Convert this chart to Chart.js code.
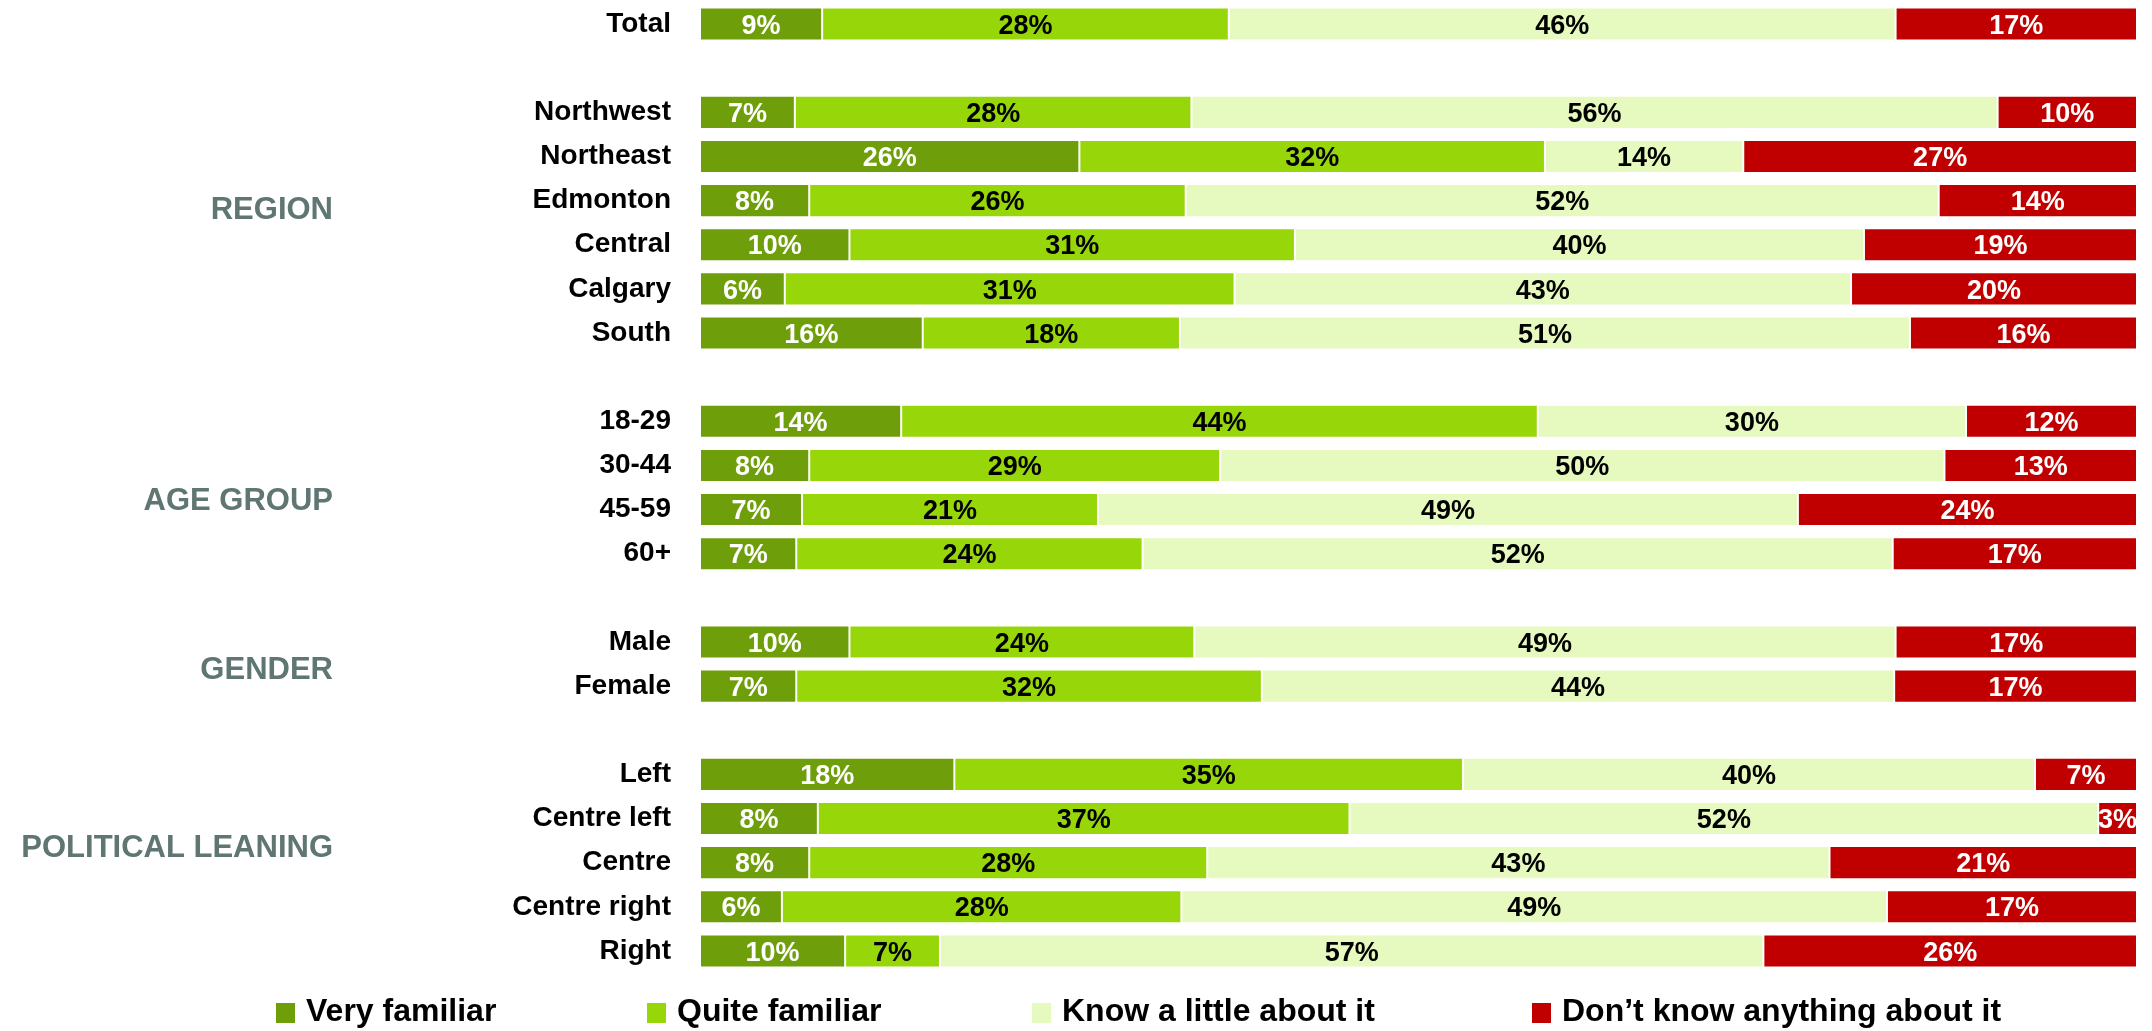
<!DOCTYPE html>
<html><head><meta charset="utf-8">
<script src="https://cdn.jsdelivr.net/npm/chart.js@4/dist/chart.umd.min.js"></script>
<style>html,body{margin:0;padding:0;background:#fff;} #wrap{position:relative;width:2152px;height:1031px;}</style>
</head><body><div id="wrap"><canvas id="c"></canvas></div>
<script>
const categories = ['Total','', 'Northwest','Northeast','Edmonton','Central','Calgary','South','', '18-29','30-44','45-59','60+','', 'Male','Female','', 'Left','Centre left','Centre','Centre right','Right'];
const veryFamiliar  = [8.5,null,6.6,26.4,7.6,10.4,5.9,15.5,null,14.0,7.6,7.1,6.7,null,10.4,6.7,null,17.7,8.2,7.6,5.7,10.1];
const quiteFamiliar = [28.3,null,27.6,32.4,26.2,31.0,31.3,17.9,null,44.3,28.6,20.6,24.1,null,24.0,32.4,null,35.4,37.0,27.7,27.8,6.6];
const knowALittle   = [46.4,null,56.1,13.8,52.4,39.6,42.9,50.8,null,29.8,50.4,48.7,52.2,null,48.8,44.0,null,39.8,52.1,43.3,49.1,57.3];
const dontKnow      = [16.8,null,9.7,27.4,13.8,19.0,19.9,15.8,null,11.9,13.4,23.6,17.0,null,16.8,16.9,null,7.1,2.7,21.4,17.4,26.0];
const seriesNames = ['Very familiar','Quite familiar','Know a little about it','Don\u2019t know anything about it'];
const groupNames = ['REGION','AGE GROUP','GENDER','POLITICAL LEANING'];

const FONT = '"Liberation Sans", Arial, sans-serif';
const colors = ['#6f9e0b','#97d70a','#e6f9bf','#c00000'];
const labelColors = ['#ffffff','#000000','#000000','#ffffff'];
const groupAt = [4.16, 10.76, 14.58, 18.63];
const legendX = [276, 647, 1032, 1532];

const valueLabels = {
  id: 'valueLabels',
  afterDatasetsDraw(chart) {
    const ctx = chart.ctx;
    ctx.save();
    ctx.font = 'bold 27px ' + FONT;
    ctx.textAlign = 'center';
    ctx.textBaseline = 'alphabetic';
    chart.data.datasets.forEach((ds, di) => {
      const meta = chart.getDatasetMeta(di);
      meta.data.forEach((bar, i) => {
        const v = ds.data[i];
        if (v == null) return;
        const p = bar.getProps(['x','y','base'], true);
        ctx.fillStyle = labelColors[di];
        ctx.fillText(Math.round(v) + '%', (p.x + p.base) / 2, p.y + 9.7);
      });
    });
    ctx.restore();
  }
};

const groupLabels = {
  id: 'groupLabels',
  afterDraw(chart) {
    const ctx = chart.ctx, y = chart.scales.y;
    ctx.save();
    ctx.font = 'bold 31px ' + FONT;
    ctx.fillStyle = '#5f7672';
    ctx.textAlign = 'right';
    ctx.textBaseline = 'alphabetic';
    groupNames.forEach((g, i) => {
      ctx.fillText(g, 333, y.getPixelForValue(groupAt[i]) + 11);
    });
    ctx.restore();
  }
};

const customLegend = {
  id: 'customLegend',
  afterDraw(chart) {
    const ctx = chart.ctx;
    ctx.save();
    ctx.font = 'bold 32px ' + FONT;
    ctx.textAlign = 'left';
    ctx.textBaseline = 'alphabetic';
    chart.data.datasets.forEach((ds, i) => {
      ctx.fillStyle = colors[i];
      ctx.fillRect(legendX[i], 1003, 19, 20);
      ctx.fillStyle = '#000';
      ctx.fillText(ds.label, legendX[i] + 30, 1021);
    });
    ctx.restore();
  }
};

const seriesData = [veryFamiliar, quiteFamiliar, knowALittle, dontKnow];

new Chart(document.getElementById('c'), {
  type: 'bar',
  data: {
    labels: categories,
    datasets: seriesData.map((d, i) => ({
      label: seriesNames[i],
      data: d,
      backgroundColor: colors[i],
      borderWidth: 1,
      borderColor: 'rgba(255,255,255,0.3)',
      borderSkipped: false,
      barPercentage: 0.75,
      categoryPercentage: 1
    }))
  },
  options: {
    indexAxis: 'y',
    responsive: true,
    maintainAspectRatio: false,
    animation: false,
    layout: { padding: { left: 0, right: 15, top: 2, bottom: 58 } },
    plugins: { legend: { display: false }, tooltip: { enabled: false } },
    scales: {
      x: { stacked: true, min: 0, max: 100, display: false },
      y: {
        stacked: true,
        grid: { display: false, drawTicks: false },
        border: { display: false },
        ticks: { color: '#000', padding: 29, font: { family: FONT, size: 28, weight: 'bold' } },
        afterFit(scale) { scale.width = 700; scale.paddingTop = 0; scale.paddingBottom = 0; }
      }
    }
  },
  plugins: [valueLabels, groupLabels, customLegend]
});
</script>
</body></html>
